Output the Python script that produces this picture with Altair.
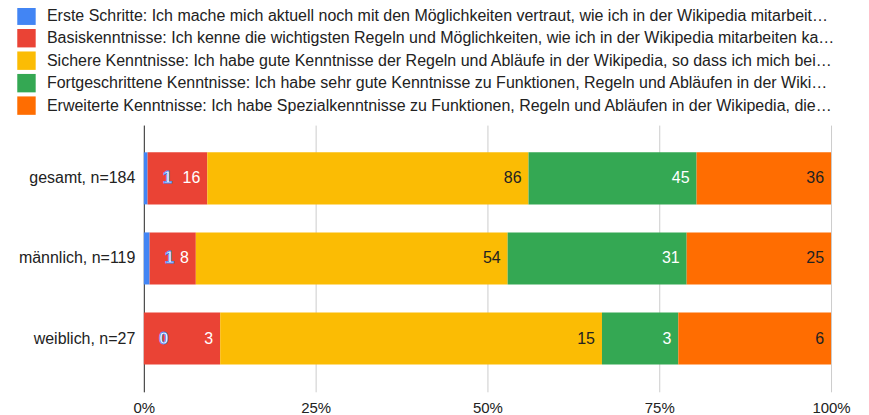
import altair as alt
import pandas as pd

groups = ["gesamt, n=184", "männlich, n=119", "weiblich, n=27"]
series = [
    "Erste Schritte: Ich mache mich aktuell noch mit den Möglichkeiten vertraut, wie ich in der Wikipedia mitarbeit…",
    "Basiskenntnisse: Ich kenne die wichtigsten Regeln und Möglichkeiten, wie ich in der Wikipedia mitarbeiten ka…",
    "Sichere Kenntnisse: Ich habe gute Kenntnisse der Regeln und Abläufe in der Wikipedia, so dass ich mich bei…",
    "Fortgeschrittene Kenntnisse: Ich habe sehr gute Kenntnisse zu Funktionen, Regeln und Abläufen in der Wiki…",
    "Erweiterte Kenntnisse: Ich habe Spezialkenntnisse zu Funktionen, Regeln und Abläufen in der Wikipedia, die…",
]
colors = ["#4285F4", "#EA4335", "#FBBC04", "#34A853", "#FF6D01"]
label_colors = ["#4285F4", "#FFFFFF", "#222222", "#FFFFFF", "#222222"]

erste = [1, 1, 0]
basis = [16, 8, 3]
sicher = [86, 54, 15]
fortg = [45, 31, 3]
erweit = [36, 25, 6]

values = [erste, basis, sicher, fortg, erweit]

rows = []
for gi, g in enumerate(groups):
    total = sum(v[gi] for v in values)
    cum = 0
    for si, s in enumerate(series):
        v = values[si][gi]
        rows.append({
            "group": g,
            "series": s,
            "value": v,
            "start": cum / total,
            "end": (cum + v) / total,
            "lblcolor": label_colors[si],
            "first": si == 0,
        })
        cum += v
df = pd.DataFrame(rows)

FONT = "Liberation Sans"

base = alt.Chart(df)

y_enc = alt.Y(
    "group:N",
    sort=groups,
    title=None,
    scale=alt.Scale(paddingInner=0.35, paddingOuter=0.34),
    axis=alt.Axis(
        ticks=False, labelPadding=9, labelFontSize=16, labelColor="#222222",
        labelFont=FONT, domainColor="#333333", domainWidth=1, grid=False,
    ),
)

bars = base.mark_bar(opacity=1).encode(
    x=alt.X(
        "start:Q",
        scale=alt.Scale(domain=[0, 1], nice=False),
        title=None,
        axis=alt.Axis(
            values=[0, 0.25, 0.5, 0.75, 1], format="%", ticks=False, domain=False,
            grid=True, gridColor="#CCCCCC", labelFontSize=15, labelColor="#222222",
            labelFont=FONT, labelPadding=9, labelFlush=False,
        ),
    ),
    x2="end:Q",
    y=y_enc,
    color=alt.Color(
        "series:N",
        scale=alt.Scale(domain=series, range=colors),
        legend=alt.Legend(
            title=None, orient="none", legendX=-127, legendY=-119,
            symbolType="square", symbolSize=340, symbolStrokeWidth=0,
            symbolOpacity=1, labelFontSize=16, labelColor="#222222",
            labelFont=FONT, labelLimit=900, labelOffset=11, rowPadding=3.5,
        ),
    ),
)

inner = base.transform_filter("!datum.first").mark_text(
    align="right", baseline="middle", dx=-7, fontSize=16, font=FONT,
).encode(
    x="end:Q",
    y=alt.Y("group:N", sort=groups),
    text="value:Q",
    color=alt.Color("lblcolor:N", scale=None),
)

outer = base.transform_filter("datum.first").mark_text(
    align="center", baseline="middle", dx=20, fontSize=17, font=FONT,
    fontWeight="bold", fill="#FFFFFF", stroke="#4285F4", strokeWidth=0.8,
).encode(
    x="end:Q",
    y=alt.Y("group:N", sort=groups),
    text="value:Q",
)

chart = alt.layer(bars, inner, outer).properties(
    width=688, height=267,
    autosize=alt.AutoSizeParams(type="none"),
    padding={"left": 136, "top": 117, "right": 30, "bottom": 28},
).configure(font=FONT).configure_view(stroke=None)

chart.save("out.html", embed_options={"renderer": "svg", "actions": False})
